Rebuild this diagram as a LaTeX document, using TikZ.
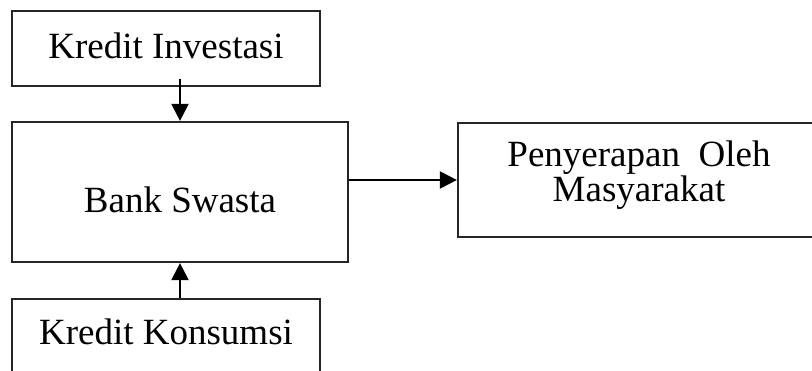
\documentclass[tikz,border=0pt]{standalone}
\usepackage{fontspec}
\setmainfont{Liberation Serif}
\usetikzlibrary{arrows.meta}
\tikzset{
  box/.style={draw=black!85, line width=2.2pt, inner sep=0pt, rectangle,
    font=\fontsize{37}{31}\selectfont},
  conn/.style={line width=2.2pt, draw=black, -{Triangle[length=17pt,width=17pt]}}
}
\begin{document}
\begin{tikzpicture}[x=1pt,y=-1pt]
\useasboundingbox (0,0) rectangle (812,371);
\clip (0,0) rectangle (812,371);
\node[box, minimum width=308, minimum height=75, text height=24, text depth=3] (ki) at (166,48.5) {Kredit Investasi};
\node[box, minimum width=336, minimum height=140, text height=42, text depth=0] (bs) at (180,192) {Bank Swasta};
\node[box, minimum width=308, minimum height=120, text height=24, text depth=52] (kk) at (166,359) {Kredit Konsumsi};
\node[box, minimum width=362, minimum height=114] (pen) at (639,180) {\raisebox{4pt}[\height][\depth]{\begin{tabular}{@{}c@{}}Penyerapan\ \ Oleh\\Masyarakat\end{tabular}}};
\coordinate (kiout) at ([yshift=8]ki.south -| bs.north);
\draw[conn] (kiout) -- (bs.north);
\draw[conn] (kk.north -| bs.south) -- (bs.south);
\draw[conn] (bs.east |- pen.west) -- (pen.west);
\end{tikzpicture}
\end{document}
